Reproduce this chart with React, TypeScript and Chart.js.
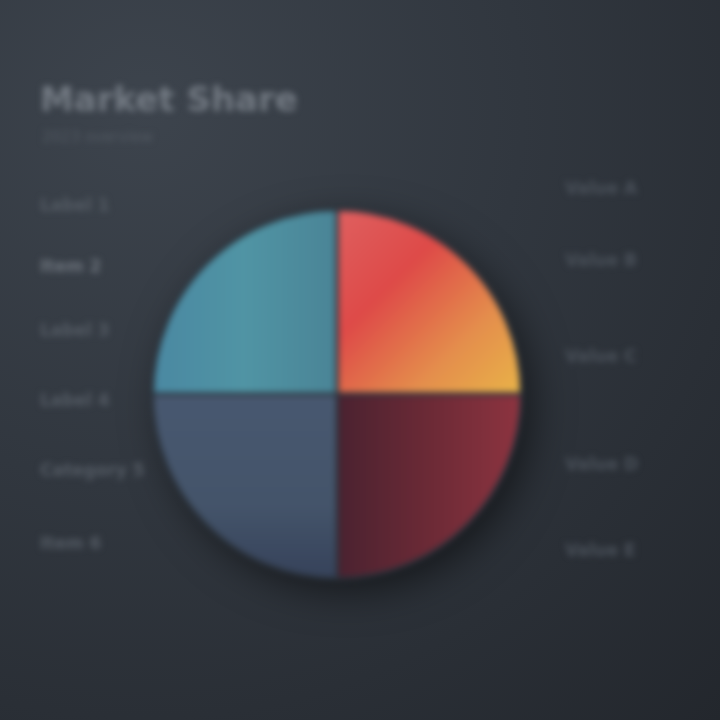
import React, { useEffect, useRef } from "react";
import { Chart, registerables } from "chart.js";

Chart.register(...registerables);

const categories = ["Segment A", "Segment B", "Segment C", "Segment D"];
const shares = [25, 25, 25, 25];
const titleText = "Market Share";
const subtitleText = "2023 overview";
const leftLabels = ["Label 1", "Item 2", "Label 3", "Label 4", "Category 5", "Item 6"];
const rightLabels = ["Value A", "Value B", "Value C", "Value D", "Value E"];

export default function App() {
  const ref = useRef<HTMLCanvasElement | null>(null);

  useEffect(() => {
    const canvas = ref.current;
    if (!canvas) return;

    const sliceColor = (ctx: any) => {
      const chart = ctx.chart;
      const area = chart.chartArea;
      if (!area) return "#888";
      const c = chart.ctx;
      const cx = (area.left + area.right) / 2;
      const cy = (area.top + area.bottom) / 2;
      const r = Math.min(area.right - area.left, area.bottom - area.top) / 2;
      const i = ctx.dataIndex;
      if (i === 0) {
        const g = c.createLinearGradient(cx, cy - r, cx + r, cy);
        g.addColorStop(0, "#df6060");
        g.addColorStop(0.35, "#de4a48");
        g.addColorStop(0.7, "#e48e4c");
        g.addColorStop(1, "#e9b448");
        return g;
      }
      if (i === 1) {
        const g = c.createLinearGradient(cx, 0, cx + r, 0);
        g.addColorStop(0, "#4a2230");
        g.addColorStop(0.5, "#6c2a36");
        g.addColorStop(1, "#8e3440");
        return g;
      }
      if (i === 2) {
        const g = c.createLinearGradient(0, cy, 0, cy + r);
        g.addColorStop(0, "#485870");
        g.addColorStop(0.6, "#44546a");
        g.addColorStop(1, "#36425a");
        return g;
      }
      const g = c.createLinearGradient(cx - r, 0, cx, 0);
      g.addColorStop(0, "#4a88a2");
      g.addColorStop(0.5, "#5094a4");
      g.addColorStop(1, "#4a8496");
      return g;
    };

    const decor = {
      id: "decor",
      beforeDraw(chart: any) {
        const c = chart.ctx;
        const area = chart.chartArea;
        const cx = (area.left + area.right) / 2;
        const cy = (area.top + area.bottom) / 2;
        const r = Math.min(area.right - area.left, area.bottom - area.top) / 2;
        c.save();
        c.shadowColor = "rgba(0,0,0,0.55)";
        c.shadowBlur = 40;
        c.shadowOffsetX = 10;
        c.shadowOffsetY = 12;
        c.fillStyle = "#2a3038";
        c.beginPath();
        c.arc(cx, cy, r - 2, 0, Math.PI * 2);
        c.fill();
        c.restore();
      },
      afterDraw(chart: any) {
        const c = chart.ctx;
        c.save();
        c.textBaseline = "middle";
        c.textAlign = "left";
        c.fillStyle = "#737a83";
        c.font = "bold 34px 'DejaVu Sans'";
        c.fillText(titleText, 40, 102);
        c.fillStyle = "#535a63";
        c.font = "15px 'DejaVu Sans'";
        c.fillText(subtitleText, 42, 138);
        const ly = [207, 268, 332, 402, 472, 545];
        c.font = "bold 17px 'DejaVu Sans'";
        leftLabels.forEach((t, k) => {
          c.fillStyle = k === 1 ? "#6c737c" : "#545b64";
          c.fillText(t, 40, ly[k]);
        });
        const ry = [190, 262, 358, 466, 552];
        c.fillStyle = "#4a515a";
        rightLabels.forEach((t, k) => {
          c.fillText(t, 565, ry[k]);
        });
        c.restore();
      },
    };

    const chart = new Chart(canvas, {
      type: "pie",
      data: {
        labels: categories,
        datasets: [
          {
            data: shares,
            backgroundColor: sliceColor,
            borderColor: "#2c343e",
            borderWidth: 3,
            hoverOffset: 0,
          },
        ],
      },
      options: {
        animation: false,
        responsive: false,
        rotation: 0,
        layout: { padding: { left: 150, right: 196, top: 208, bottom: 140 } },
        plugins: {
          legend: { display: false },
          tooltip: { enabled: false },
        },
      },
      plugins: [decor],
    });
    return () => chart.destroy();
  }, []);

  return (
    <div
      style={{
        position: "absolute",
        left: 0,
        top: 0,
        width: 720,
        height: 720,
        background:
          "radial-gradient(circle at 20% 15%, #3d444d 0%, #31373f 45%, #23272d 100%)",
        overflow: "hidden",
      }}
    >
      <canvas
        ref={ref}
        width={720}
        height={720}
        style={{ width: 720, height: 720, filter: "blur(3px)" }}
      />
    </div>
  );
}
